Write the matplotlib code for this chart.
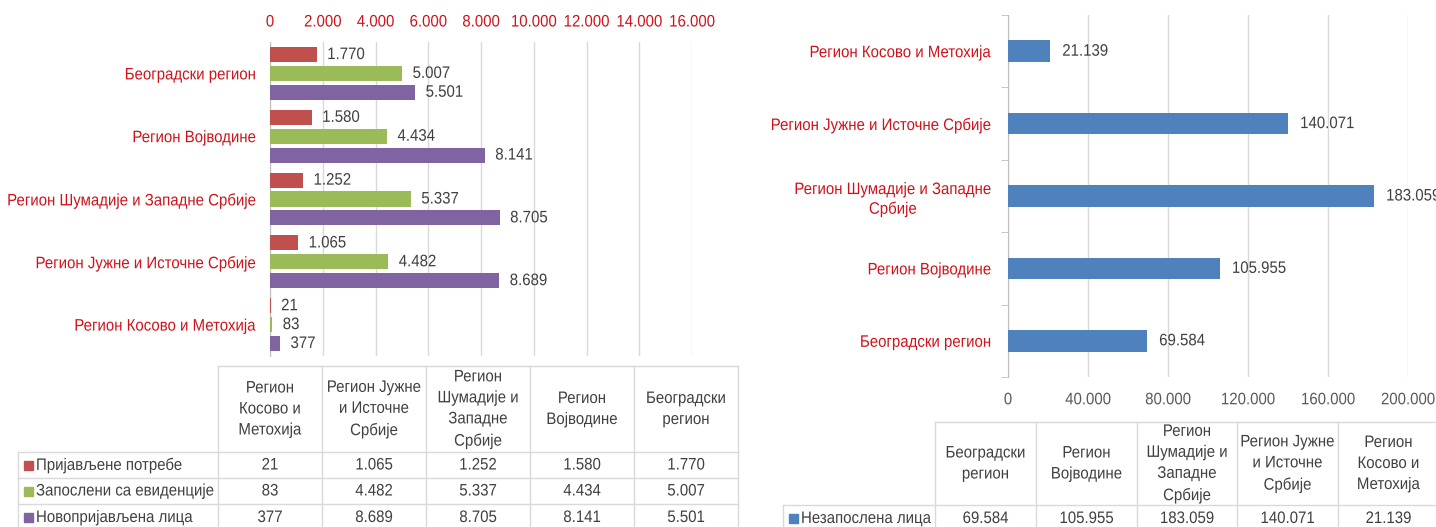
import matplotlib
matplotlib.use("Agg")
import matplotlib.pyplot as plt
import numpy as np
from matplotlib.ticker import FixedLocator
from matplotlib.patheffects import AbstractPathEffect
from matplotlib.transforms import Affine2D

plt.rcParams['font.family'] = ['Liberation Sans', 'DejaVu Sans']

# ---- data -------------------------------------------------------------
regions_left = ["Регион Косово и Метохија", "Регион Јужне и Источне Србије",
                "Регион Шумадије и Западне Србије", "Регион Војводине",
                "Београдски регион"]
table_left_headers = ["Регион\nКосово и\nМетохија", "Регион Јужне\nи Источне\nСрбије",
                      "Регион\nШумадије и\nЗападне\nСрбије", "Регион\nВојводине",
                      "Београдски\nрегион"]
series_names = ["Пријављене потребе", "Запослени са евиденције", "Новопријављена лица"]
prijavljene = [21, 1065, 1252, 1580, 1770]
zaposleni = [83, 4482, 5337, 4434, 5007]
novoprijavljena = [377, 8689, 8705, 8141, 5501]
left_ticks = [0, 2000, 4000, 6000, 8000, 10000, 12000, 14000, 16000]

regions_right = ["Београдски регион", "Регион Војводине",
                 "Регион Шумадије и Западне\nСрбије", "Регион Јужне и Источне Србије",
                 "Регион Косово и Метохија"]
table_right_headers = ["Београдски\nрегион", "Регион\nВојводине",
                       "Регион\nШумадије и\nЗападне\nСрбије", "Регион Јужне\nи Источне\nСрбије",
                       "Регион\nКосово и\nМетохија"]
right_series_name = "Незапослена лица"
nezaposleni = [69584, 105955, 183059, 140071, 21139]
right_ticks = [0, 40000, 80000, 120000, 160000, 200000]

# ---- style ------------------------------------------------------------
RED_TXT = "#D0121B"
GRAY_TXT = "#404040"
GRID = "#D9D9D9"
AXIS = "#BFBFBF"
series_colors = ["#C0504D", "#9BBB59", "#8064A2"]
BLUE = "#4F81BD"
FS = 12
NARROW = 0.90


class Condensed(AbstractPathEffect):
    """Squeeze glyphs horizontally about the text's anchor point."""

    def __init__(self, text, sx=NARROW):
        super().__init__()
        self._text = text
        self._sx = sx

    def draw_path(self, renderer, gc, tpath, affine, rgbFace=None):
        x0, _ = self._text.get_transform().transform(self._text.get_unitless_position())
        squeeze = Affine2D().translate(-x0, 0).scale(self._sx, 1).translate(x0, 0)
        renderer.draw_path(gc, tpath, affine + squeeze, rgbFace)


def condensed(texts):
    for t in texts:
        t.set_path_effects([Condensed(t)])


def fmt(v):
    return f"{v:,}".replace(",", ".")


W, H = 1436, 527
fig = plt.figure(figsize=(W / 100, H / 100), dpi=100)


def px_axes(x0, y0, x1, y1):
    return fig.add_axes([x0 / W, 1 - y1 / H, (x1 - x0) / W, (y1 - y0) / H])


# ---- left chart -------------------------------------------------------
axl = px_axes(270, 42, 692, 356)
y = np.arange(len(regions_left))
all_series = [prijavljene, zaposleni, novoprijavljena]
offsets = [0.30, 0.0, -0.30]
for vals, off, col in zip(all_series, offsets, series_colors):
    axl.barh(y + off, vals, height=0.24, color=col, zorder=3)
    for yi, v in zip(y, vals):
        t = axl.text(v + 400, yi + off, fmt(v), va="center", ha="left",
                     color=GRAY_TXT, fontsize=FS)
        condensed([t])
axl.set_xlim(left_ticks[0], left_ticks[-1])
axl.set_ylim(-0.5, len(regions_left) - 0.5)
axl.xaxis.tick_top()
axl.set_xticks(left_ticks)
axl.set_xticklabels([fmt(t) for t in left_ticks], color=RED_TXT, fontsize=FS)
axl.tick_params(axis="x", length=0, pad=9)
axl.set_yticks(y)
axl.set_yticklabels(regions_left, color=RED_TXT, fontsize=FS)
axl.tick_params(axis="y", length=0, pad=10)
axl.grid(axis="x", color=GRID, lw=1, zorder=0)
for s in ["top", "right", "bottom"]:
    axl.spines[s].set_visible(False)
axl.spines["left"].set_color(AXIS)
axl.set_facecolor("none")
condensed(axl.get_xticklabels() + axl.get_yticklabels())

# ---- right chart ------------------------------------------------------
axr = px_axes(1008, 15, 1408, 377)
yr = np.arange(len(regions_right))
axr.barh(yr, nezaposleni, height=0.30, color=BLUE, zorder=3)
for yi, v in zip(yr, nezaposleni):
    t = axr.text(v + 6000, yi, fmt(v), va="center", ha="left",
                 color=GRAY_TXT, fontsize=FS, clip_on=False)
    condensed([t])
axr.set_xlim(right_ticks[0], right_ticks[-1])
axr.set_ylim(-0.5, len(regions_right) - 0.5)
axr.set_xticks(right_ticks)
axr.set_xticklabels([fmt(t) for t in right_ticks], color="#595959", fontsize=FS)
axr.tick_params(axis="x", length=0, pad=11)
axr.set_yticks(yr)
axr.set_yticklabels(regions_right, color=RED_TXT, fontsize=FS,
                    multialignment="center", linespacing=1.3)
axr.tick_params(axis="y", which="major", length=0, pad=12)
axr.yaxis.set_minor_locator(FixedLocator(np.arange(-0.5, len(regions_right), 1.0)))
axr.tick_params(axis="y", which="minor", length=5, color=AXIS, direction="out")
axr.grid(axis="x", color=GRID, lw=1, zorder=0)
for s in ["top", "right", "bottom"]:
    axr.spines[s].set_visible(False)
axr.spines["left"].set_color(AXIS)
axr.set_facecolor("none")
condensed(axr.get_xticklabels() + axr.get_yticklabels())

# ---- data tables ------------------------------------------------------
axt = fig.add_axes([0, 0, 1, 1])
axt.set_xlim(0, W)
axt.set_ylim(H, 0)
axt.axis("off")
axt.set_zorder(-1)


def draw_table(x_label, x_cols, y_rows, headers, rows, names, colors):
    lc = dict(color=GRID, lw=1)
    top, hdr_bot = y_rows[0], y_rows[1]
    axt.plot([x_cols[0], x_cols[-1]], [top, top], **lc)
    for xc in x_cols:
        axt.plot([xc, xc], [top, y_rows[-1]], **lc)
    for yr_ in y_rows[1:]:
        axt.plot([x_label, x_cols[-1]], [yr_, yr_], **lc)
    axt.plot([x_label, x_label], [hdr_bot, y_rows[-1]], **lc)
    texts = []
    for i, h in enumerate(headers):
        cx = (x_cols[i] + x_cols[i + 1]) / 2
        texts.append(axt.text(cx, (top + hdr_bot) / 2, h, ha="center", va="center",
                              color=GRAY_TXT, fontsize=FS, linespacing=1.5))
    for r, (vals, name, col) in enumerate(zip(rows, names, colors)):
        cy = (y_rows[r + 1] + y_rows[r + 2]) / 2
        axt.add_patch(plt.Rectangle((x_label + 6, cy - 4.5), 9, 9, color=col))
        texts.append(axt.text(x_label + 18, cy, name, ha="left", va="center",
                              color=GRAY_TXT, fontsize=FS))
        for i, v in enumerate(vals):
            cx = (x_cols[i] + x_cols[i + 1]) / 2
            texts.append(axt.text(cx, cy, fmt(v), ha="center", va="center",
                                  color=GRAY_TXT, fontsize=FS))
    condensed(texts)


draw_table(18, [218, 322, 426, 530, 634, 738], [366, 452, 478, 504, 531],
           table_left_headers, all_series, series_names, series_colors)
draw_table(783, [935, 1036, 1137, 1237, 1338, 1439], [422, 505, 532],
           table_right_headers, [nezaposleni], [right_series_name], [BLUE])

fig.savefig("out.png", dpi=100)
